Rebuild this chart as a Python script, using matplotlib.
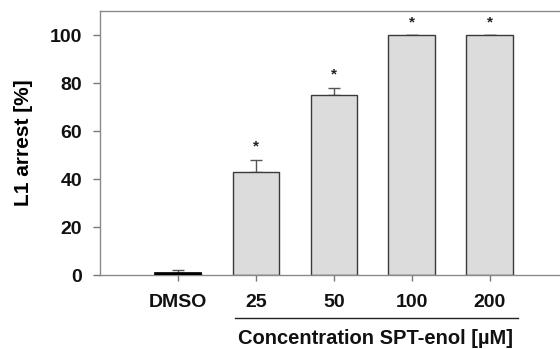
import numpy as np
import matplotlib
matplotlib.use('Agg')
import matplotlib.pyplot as plt

plt.rcParams['font.family'] = ['Liberation Sans', 'DejaVu Sans']

# ── Datos ────────────────────────────────────────────────────────────────────
labels = ['DMSO', '25', '50', '100', '200']
arrest = [1, 43, 75, 100, 100]
err_up = [1, 5, 3, 0, 0]
signif = [False, True, True, True, True]

x = np.arange(len(labels))

fig = plt.figure(figsize=(5.6, 3.49), dpi=100)
ax = fig.add_axes([100/560, 1 - 275/349, 1 - 100/560, (275 - 11)/349])

edge = '#3a3a3a'
ax.bar(x, arrest, width=0.6, color='#dcdcdc', edgecolor=edge, linewidth=1.0, zorder=2)
# DMSO casi en cero: se ve como una franja negra
ax.bar(x[0], arrest[0], width=0.6, color='black', edgecolor='black', linewidth=1.2, zorder=3)

ax.errorbar(x, arrest, yerr=[np.zeros(len(x)), err_up], fmt='none',
            ecolor='#555555', elinewidth=1.0, capsize=4, capthick=1.0, zorder=1)

for xi, v, e, s in zip(x, arrest, err_up, signif):
    if s:
        ax.text(xi, v + e + 2.5, '*', ha='center', va='bottom',
                fontsize=11, fontweight='bold', color='#222222')

ax.set_xlim(-1.0, 4.9)
ax.set_ylim(0, 110)
ax.set_yticks([0, 20, 40, 60, 80, 100])
ax.set_xticks(x)
ax.set_xticklabels(labels)

for lab in ax.get_xticklabels() + ax.get_yticklabels():
    lab.set_fontweight('bold')
    lab.set_fontsize(14)
    lab.set_color('#111111')

ax.tick_params(axis='y', direction='out', length=5, width=1, color='#777777', pad=8)
ax.tick_params(axis='x', direction='out', length=4, width=1, color='#777777', pad=10)

for side in ['left', 'top', 'bottom']:
    ax.spines[side].set_color('#8a8a8a')
    ax.spines[side].set_linewidth(1.0)
ax.spines['right'].set_visible(False)

ax.set_ylabel('L1 arrest [%]', fontsize=15, fontweight='bold', labelpad=12)

# Línea y título del grupo de concentraciones
fig.add_artist(plt.Line2D([235/560, 518/560], [1 - 318/349, 1 - 318/349],
                          color='#222222', linewidth=1.0))
fig.text(376/560, 1 - 338/349, 'Concentration SPT-enol [µM]', ha='center', va='center',
         fontsize=14.5, fontweight='bold', color='#111111')

plt.savefig('out.png', dpi=100, facecolor='white')
